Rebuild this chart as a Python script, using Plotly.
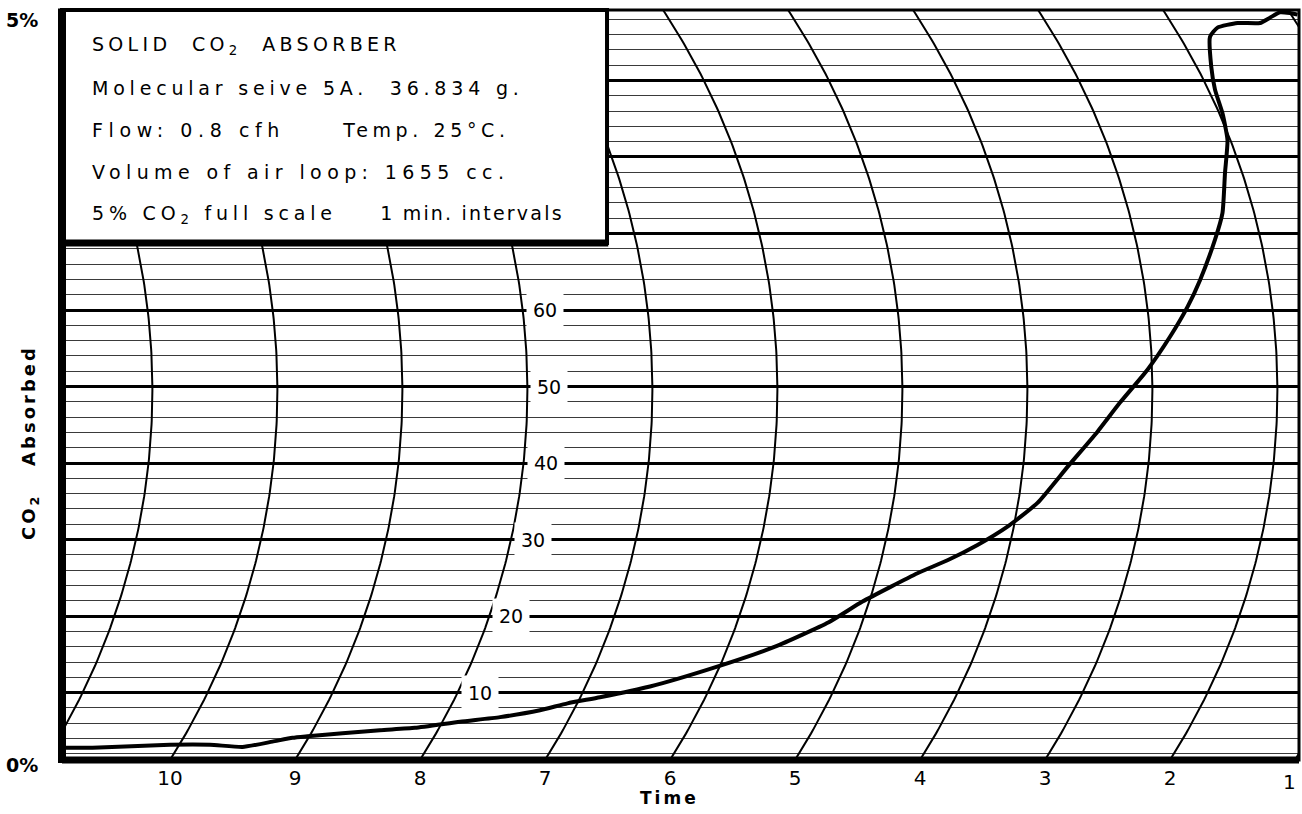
import numpy as np
import plotly.graph_objects as go

# ---------------- data ----------------
# time in minutes (chart runs right -> left), pen position in chart divisions (0-100 = 0-5 % CO2)
time_min = [10.84, 10.62, 10.00, 9.68, 9.42, 9.18, 9.02, 8.90, 8.62, 8.32, 8.04, 7.68,
            7.36, 7.04, 6.82, 6.56, 6.16, 5.66, 5.16, 4.73, 4.46, 4.02, 3.78, 3.54,
            3.30, 3.06, 2.82, 2.58, 2.40, 2.18, 2.00, 1.86, 1.76, 1.64, 1.58, 1.56,
            1.54, 1.58, 1.64, 1.67, 1.68, 1.62, 1.46, 1.28, 1.20, 1.12, 1.04, 0.98]
co2_div = [2.8, 2.8, 3.2, 3.2, 2.9, 3.6, 4.1, 4.3, 4.7, 5.1, 5.4, 6.2,
           6.8, 7.7, 8.6, 9.4, 10.8, 13.2, 16.0, 19.2, 21.9, 25.6, 27.3, 29.3,
           31.7, 34.8, 39.5, 44.1, 47.9, 52.2, 56.5, 60.4, 63.9, 69.2, 72.7, 77.9,
           82.2, 85.7, 88.8, 91.8, 95.7, 96.9, 97.5, 97.5, 98.2, 98.9, 98.8, 98.6]

minute_ticks = [1, 2, 3, 4, 5, 6, 7, 8, 9, 10]
minute_labels = ["1", "2", "3", "4", "5", "6", "7", "8", "9", "10"]
arc_minutes = [1, 2, 3, 4, 5, 6, 7, 8, 9, 10, 11]
division_labels = [10, 20, 30, 40, 50, 60]
scale_labels = ["0%", "5%"]

# each info line: list of (text part, letter spacing in px)
info_lines = [
    [("SOLID\u00a0\u00a0CO<sub>2</sub>\u00a0\u00a0ABSORBER", 4.3)],
    [("Molecular\u00a0seive\u00a05A.\u00a0\u00a036.834\u00a0g.", 4.8)],
    [("Flow:\u00a00.8\u00a0cfh\u00a0\u00a0\u00a0\u00a0\u00a0", 5.6), ("Temp.\u00a025°C.", 4.6)],
    [("Volume\u00a0of\u00a0air\u00a0loop:\u00a01655\u00a0cc.", 5.4)],
    [("5%\u00a0CO<sub>2</sub>\u00a0full\u00a0scale\u00a0\u00a0\u00a0\u00a0", 4.8), ("1\u00a0min.\u00a0intervals", 2.2)],
]

# ---------------- chart-paper geometry ----------------
X_LEFT, X_RIGHT = 10.864, 0.968
Y_MIN, Y_MAX = 1.2, 99.2
ARC_R_MIN = 5.5     # pen-arm radius, horizontal (minutes)
ARC_R_DIV = 90.0    # pen-arm radius, vertical (divisions)
ARC_PIVOT = 49.5    # pivot height (divisions)

FONT = "DejaVu Sans"


def arc_time(t0, u):
    u = np.asarray(u, dtype=float)
    base = np.sqrt(1 - ((Y_MIN - ARC_PIVOT) / ARC_R_DIV) ** 2)
    return t0 - ARC_R_MIN * (np.sqrt(1 - ((u - ARC_PIVOT) / ARC_R_DIV) ** 2) - base)


fig = go.Figure()

u_samples = np.linspace(Y_MIN, Y_MAX, 200)
for m in arc_minutes:
    fig.add_trace(go.Scatter(
        x=arc_time(m, u_samples), y=u_samples, mode="lines",
        line=dict(color="black", width=2), hoverinfo="skip", showlegend=False))

fig.add_trace(go.Scatter(
    x=time_min, y=co2_div, mode="lines",
    line=dict(color="black", width=4, shape="spline", smoothing=0.5),
    name="CO2 absorbed", showlegend=False))

annotations = []
# division labels along the 8-minute arc
for d in division_labels:
    annotations.append(dict(
        x=float(arc_time(8, d)), y=d, xref="x", yref="y",
        text=str(d), showarrow=False, xanchor="left", yanchor="middle",
        xshift=3, bgcolor="white", borderpad=6,
        font=dict(family=FONT, size=19, color="black")))

# information box text
info_y = [0.9533, 0.896, 0.84, 0.784, 0.7267]
for parts, yy in zip(info_lines, info_y):
    txt = "".join(f'<span style="letter-spacing:{ls}px">{p}</span>' for p, ls in parts)
    annotations.append(dict(
        x=0.0227, y=yy, xref="paper", yref="paper", text=txt,
        showarrow=False, xanchor="left", yanchor="middle",
        font=dict(family=FONT, size=19, color="black")))

# scale end labels
for lab, yy in zip(scale_labels, [-0.007, 0.987]):
    annotations.append(dict(
        x=-0.0178, y=yy, xref="paper", yref="paper", text=lab, showarrow=False,
        xanchor="right", yanchor="middle",
        font=dict(family=FONT, size=19, color="black", weight="bold")))

# right-most minute label kept inside the page
annotations.append(dict(
    x=1, y=0, xref="paper", yref="paper", text=minute_labels[0], showarrow=False,
    xanchor="right", yanchor="top", xshift=-1, yshift=-8,
    font=dict(family=FONT, size=20, color="black")))

# axis titles
annotations.append(dict(
    x=-0.0259, y=0.424, xref="paper", yref="paper",
    text='<span style="letter-spacing:3px">CO<sub>2</sub>\u00a0\u00a0\u00a0Absorbed</span>',
    showarrow=False, textangle=-90, xanchor="center", yanchor="middle",
    font=dict(family=FONT, size=18, color="black", weight="bold")))
annotations.append(dict(
    x=0.4915, y=-0.051, xref="paper", yref="paper",
    text='<span style="letter-spacing:3px">Time</span>',
    showarrow=False, xanchor="center", yanchor="middle",
    font=dict(family=FONT, size=17, color="black", weight="bold")))

box_x1 = 0.4406
box_y0 = 0.6893
shapes = [
    # information box
    dict(type="rect", xref="paper", yref="paper", x0=0, x1=box_x1, y0=box_y0, y1=1,
         fillcolor="white", line=dict(color="black", width=4), layer="above"),
    dict(type="line", xref="paper", yref="paper", x0=0, x1=box_x1 + 0.001, y0=box_y0, y1=box_y0,
         line=dict(color="black", width=7), layer="above"),
    # chart frame
    dict(type="rect", xref="paper", yref="paper", x0=0, x1=1, y0=0, y1=1,
         line=dict(color="black", width=3), layer="above"),
    dict(type="line", xref="paper", yref="paper", x0=0, x1=0, y0=-0.004, y1=1.002,
         line=dict(color="black", width=8), layer="above"),
    dict(type="line", xref="paper", yref="paper", x0=0, x1=1, y0=0, y1=0,
         line=dict(color="black", width=7), layer="above"),
]

fig.update_layout(
    width=1302, height=814,
    margin=dict(l=62, r=3, t=10, b=54, autoexpand=False),
    paper_bgcolor="white", plot_bgcolor="white",
    showlegend=False,
    font=dict(family=FONT, color="black"),
    xaxis=dict(range=[X_LEFT, X_RIGHT], tickmode="array", tickvals=minute_ticks[1:],
               ticktext=minute_labels[1:], showgrid=False, zeroline=False, showline=False,
               ticks="", ticklabelstandoff=4, automargin=False,
               tickfont=dict(family=FONT, size=20, color="black")),
    yaxis=dict(range=[Y_MIN, Y_MAX], tick0=0, dtick=10, showticklabels=False,
               showgrid=True, gridcolor="black", gridwidth=2.5, zeroline=False,
               showline=False, ticks="", automargin=False,
               minor=dict(tick0=0, dtick=2, showgrid=True, gridcolor="#3a3a3a",
                          gridwidth=1.3)),
    annotations=annotations,
    shapes=shapes,
)

fig.write_html("out.html", config={"displayModeBar": False},
               post_script="document.body.style.margin='0';document.body.style.overflow='hidden';")
